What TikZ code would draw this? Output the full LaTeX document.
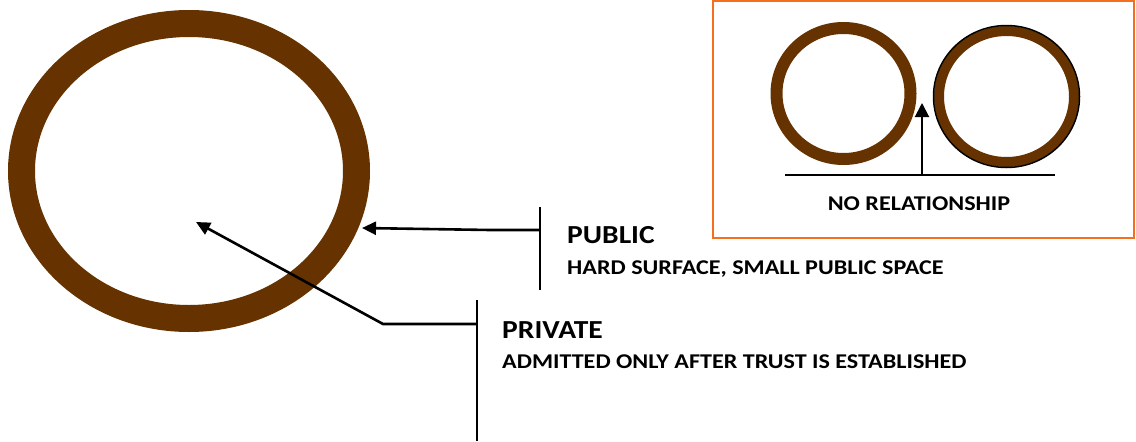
\documentclass[tikz,border=0pt]{standalone}
\usepackage{fontspec}
\usetikzlibrary{arrows.meta}
\setmainfont{Carlito}
\definecolor{ringbrown}{HTML}{663300}
\definecolor{boxorange}{HTML}{F4701E}
\begin{document}
\begin{tikzpicture}[x=1pt,y=-1pt,
  lbl/.style={anchor=base west,inner sep=0pt,xscale=1.135,transform shape},
  ttl/.style={lbl,font=\bfseries\fontsize{26}{26}\selectfont},
  sub/.style={lbl,xscale=1.012,font=\bfseries\fontsize{21}{21}\selectfont},
  conn/.style={line width=2.6pt},
  arr/.style={conn,-{Triangle[length=14pt,width=13pt]}}]
\useasboundingbox (0,0) rectangle (1136,442);
% big ring
\draw[ringbrown,line width=27pt] (189,171) ellipse [x radius=167.5,y radius=147.5];
\coordinate (bigc) at (196,222);
\coordinate (bigedge) at (362,228);
% public
\coordinate (pubtop) at (540,207);
\coordinate (pubbot) at (540,290);
\coordinate (pubj) at (540,230);
\coordinate (pubk) at (490,230);
\draw[conn] (pubtop) -- (pubbot);
\draw[arr] (pubj) -- (pubk) -- (bigedge);
\node[ttl] (pubt) at (567,243.5) {PUBLIC};
\node[sub] (pubs) at (567,274.5) {HARD SURFACE, SMALL PUBLIC SPACE};
% private
\coordinate (privtop) at (477,300);
\coordinate (privbot) at (477,441);
\coordinate (privj) at (477,324);
\coordinate (privk) at (383,324);
\draw[conn] (privtop) -- (privbot);
\draw[arr] (privj) -- (privk) -- (bigc);
\node[ttl] (privt) at (502,338) {PRIVATE};
\node[sub] (privs) at (502,368) {ADMITTED ONLY AFTER TRUST IS ESTABLISHED};
% inset
\draw[boxorange,line width=2pt] (713,1) rectangle (1134,238);
\draw[ringbrown,line width=12pt] (843.5,93.5) ellipse [x radius=67,y radius=65.5];
\draw[ringbrown,line width=10pt] (1006.5,96.5) ellipse [x radius=67.5,y radius=65.5];
\draw[black,line width=1.5pt] (1006.5,96.5) ellipse [x radius=73,y radius=71];
\coordinate (gl) at (785,175);
\coordinate (gr) at (1055,175);
\coordinate (gm) at (922,175);
\coordinate (gtip) at (922,103);
\draw[line width=1.6pt] (gl) -- (gr);
\draw[line width=2pt,-{Triangle[length=14pt,width=14pt]}] (gm) -- (gtip);
\node[sub,anchor=base] (nor) at (919,210) {NO RELATIONSHIP};
\end{tikzpicture}
\end{document}
